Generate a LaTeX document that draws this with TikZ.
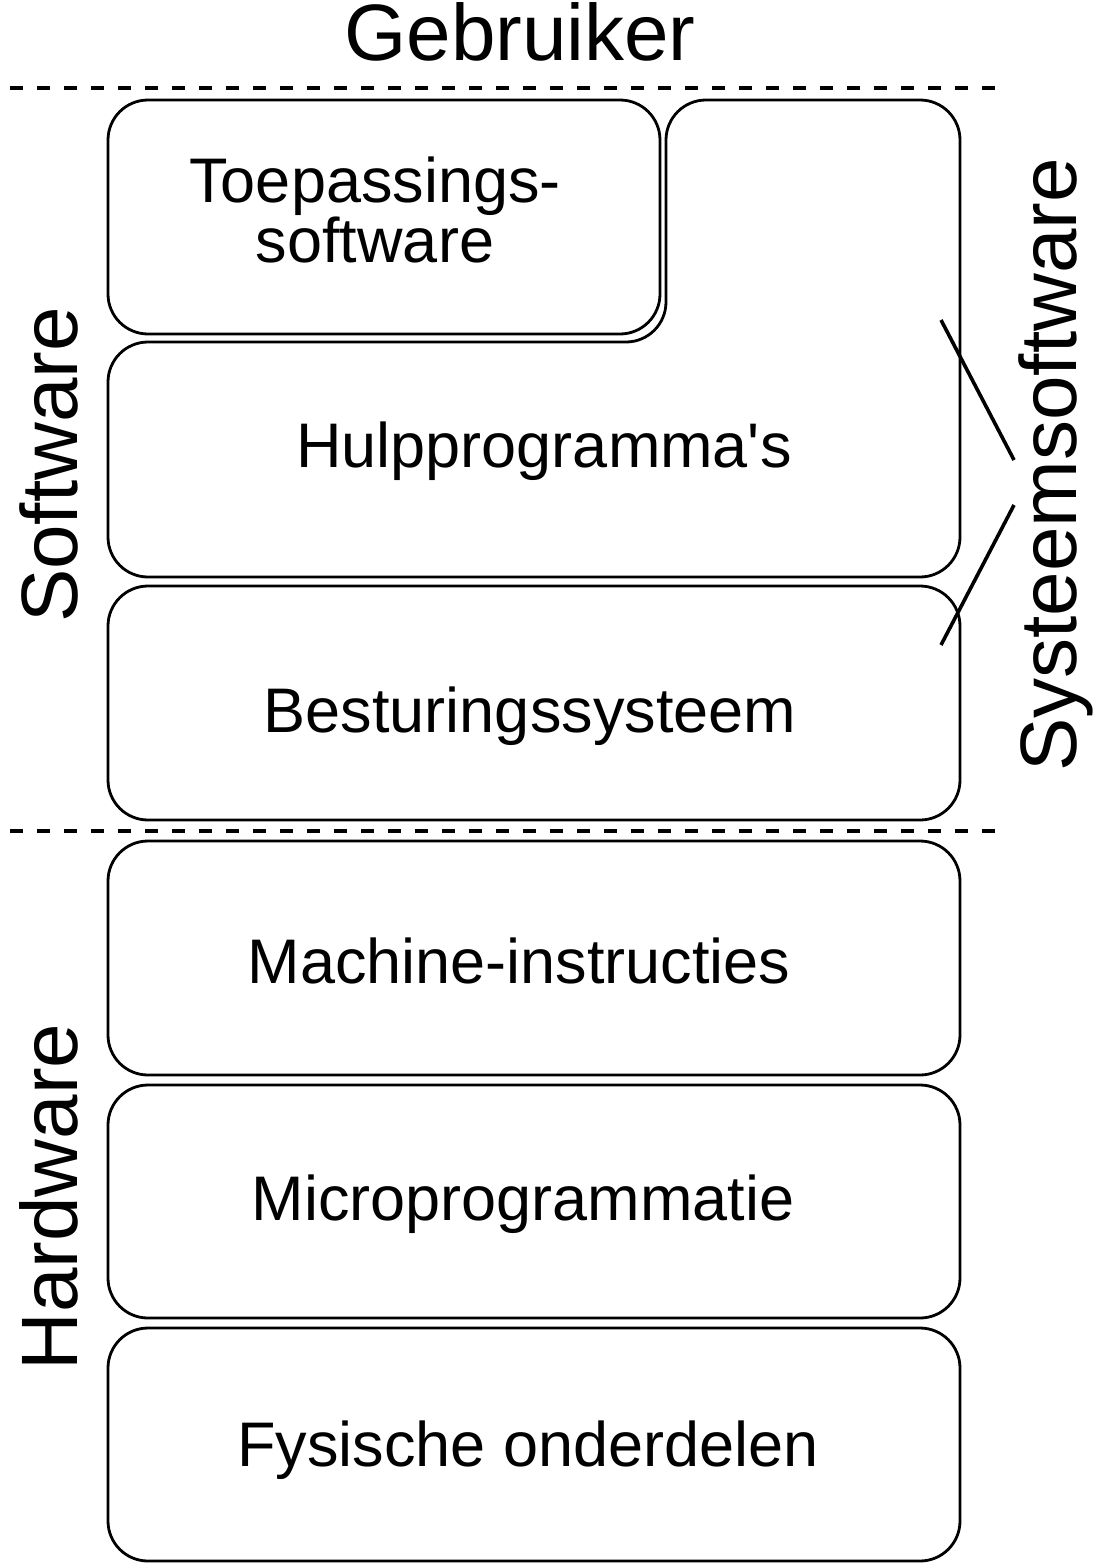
\documentclass[tikz,border=0pt]{standalone}
\usepackage{fontspec}
\setmainfont{Liberation Sans}[Ligatures=TeXOff]
\begin{document}
\begin{tikzpicture}[x={(0.5pt,0)},y={(0,-0.5pt)},
    laag/.style={line width=1.4pt,rounded corners=20pt},
    grens/.style={line width=1.9pt,dash pattern=on 6.5pt off 7pt},
    lijn/.style={line width=1.8pt},
    tekst/.style={font=\fontsize{31.5}{30}\selectfont,anchor=base,inner sep=0pt,align=center},
    groot/.style={font=\fontsize{40}{44}\selectfont,anchor=base,inner sep=0pt}]
  \useasboundingbox (0,0) rectangle (1094,1563);
  \node[groot] (gebruiker) at (520,61) {Gebruiker};
  \draw[grens] (10,88)--(1000,88);
  \draw[grens] (10,831)--(1000,831);
  % software
  \draw[laag] (108,100) rectangle (660,334);
  \draw[laag] (108,460)--(108,342)--(666,342)--(666,100)--(960,100)--(960,577)--(108,577)--cycle;
  \draw[laag] (108,586) rectangle (960,820);
  % hardware
  \draw[laag] (108,841) rectangle (960,1075);
  \draw[laag] (108,1085) rectangle (960,1318);
  \draw[laag] (108,1328) rectangle (960,1561);
  \node[tekst] (toepassing) at (375,262) {Toepassings-\\software};
  \node[tekst] (hulp) at (544,467) {Hulpprogramma's};
  \node[tekst] (besturing) at (530,732) {Besturingssysteem};
  \node[tekst] (machine) at (519,983) {Machine-instructies};
  \node[tekst] (micro) at (523,1220) {Microprogrammatie};
  \node[tekst] (fysisch) at (528,1466) {Fysische onderdelen};
  \node[groot,rotate=90] (software) at (77,465) {Software};
  \node[groot,rotate=90] (hardware) at (77,1197) {Hardware};
  \node[groot,rotate=90] (systeem) at (1076,465) {Systeemsoftware};
  \coordinate (hulp-r) at (941,320);
  \coordinate (besturing-r) at (941,645);
  \coordinate (systeem-a) at (1014,460);
  \coordinate (systeem-b) at (1014,505);
  \draw[lijn] (hulp-r)--(systeem-a);
  \draw[lijn] (systeem-b)--(besturing-r);
\end{tikzpicture}
\end{document}
